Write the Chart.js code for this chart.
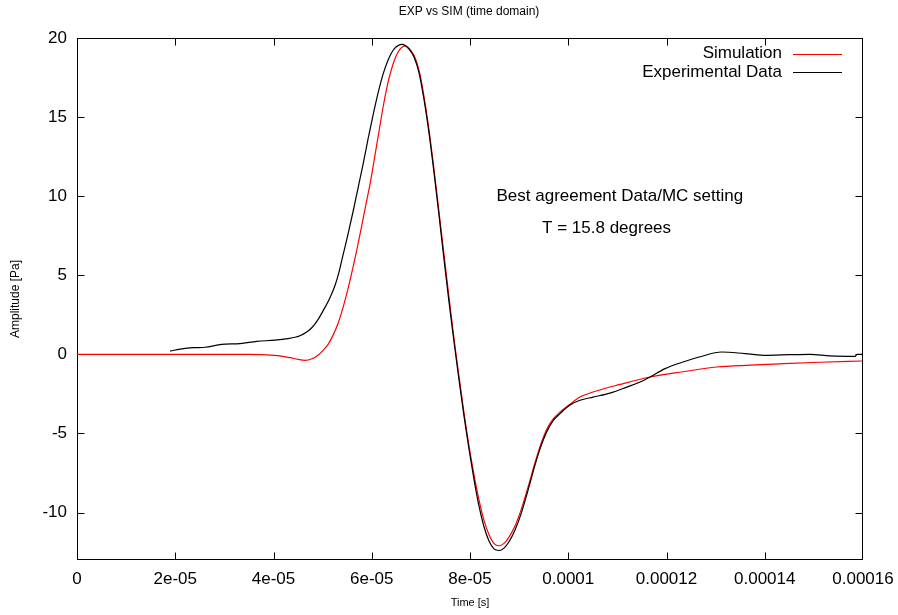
<!DOCTYPE html>
<html>
<head>
<meta charset="utf-8">
<title>EXP vs SIM (time domain)</title>
<script src="https://cdn.jsdelivr.net/npm/chart.js@4/dist/chart.umd.min.js"></script>
<style>
  html, body { margin: 0; padding: 0; background: #fff; }
  #wrap { width: 898px; height: 615px; }
</style>
</head>
<body>
<div id="wrap"><canvas id="c" width="898" height="615"></canvas></div>
<script>
// Time axis (seconds) and amplitude (Pa) of the simulated waveform
const simTime = [
  0, 14.86e-6, 31.14e-6, 35.22e-6, 38.62e-6, 41.32e-6, 43.36e-6, 44.99e-6, 46.41e-6, 47.84e-6,
  49.06e-6, 50.08e-6, 51.09e-6, 52.11e-6, 53.13e-6, 54.15e-6, 55.17e-6, 56.18e-6, 56.94e-6, 57.81e-6,
  58.83e-6, 59.79e-6, 60.66e-6, 61.48e-6, 62.35e-6, 63.10e-6, 64.18e-6, 65.34e-6, 66.77e-6, 67.99e-6,
  69.01e-6, 69.82e-6, 70.64e-6, 71.65e-6, 72.67e-6, 73.69e-6, 74.71e-6, 75.73e-6, 76.74e-6, 77.76e-6,
  78.78e-6, 79.80e-6, 80.81e-6, 81.83e-6, 82.85e-6, 83.87e-6, 84.88e-6, 85.90e-6, 86.92e-6, 87.94e-6,
  89.16e-6, 90.38e-6, 91.81e-6, 93.23e-6, 94.45e-6, 95.61e-6, 96.90e-6, 98.32e-6, 100.36e-6, 102.39e-6,
  105.04e-6, 110.54e-6, 116.65e-6, 123.36e-6, 130.22e-6, 137.08e-6, 143.71e-6, 151.24e-6, 159.79e-6
];
const simAmp = [
  0, 0, 0, 0, -0.03, -0.1, -0.21, -0.32, -0.38, -0.28,
  -0.06, 0.25, 0.62, 1.2, 1.95, 2.95, 4.15, 5.5, 6.58, 7.9,
  9.5, 11.0, 12.6, 14.1, 15.7, 16.9, 18.2, 19.1, 19.5, 19.2,
  18.6, 17.7, 16.3, 14.2, 11.7, 9.0, 6.3, 3.6, 1.0, -1.4,
  -3.7, -5.8, -7.6, -9.2, -10.5, -11.4, -11.95, -12.1, -11.95, -11.55,
  -10.85, -9.85, -8.4, -6.85, -5.65, -4.75, -4.1, -3.65, -3.15, -2.7,
  -2.38, -1.9, -1.43, -1.1, -0.8, -0.68, -0.59, -0.5, -0.42
];

// Time axis (seconds) and amplitude (Pa) of the measured waveform
const expTime = [
  18.93e-6, 21.37e-6, 23.67e-6, 26.06e-6, 29.46e-6, 33.18e-6, 36.58e-6, 40.31e-6, 42.95e-6, 44.58e-6,
  45.39e-6, 46.76e-6, 47.84e-6, 49.06e-6, 50.14e-6, 51.30e-6, 52.52e-6, 53.33e-6, 54.21e-6, 55.17e-6,
  56.18e-6, 57.20e-6, 58.22e-6, 59.24e-6, 60.25e-6, 61.27e-6, 62.29e-6, 63.31e-6, 64.53e-6, 66.22e-6,
  67.58e-6, 68.60e-6, 69.62e-6, 70.64e-6, 71.65e-6, 72.67e-6, 73.69e-6, 74.71e-6, 75.73e-6, 76.74e-6,
  77.76e-6, 78.78e-6, 79.80e-6, 80.81e-6, 81.83e-6, 82.85e-6, 83.87e-6, 84.88e-6, 85.90e-6, 86.92e-6,
  87.94e-6, 89.16e-6, 90.38e-6, 91.81e-6, 93.23e-6, 94.45e-6, 95.61e-6, 96.90e-6, 98.32e-6, 100.36e-6,
  102.39e-6, 105.04e-6, 108.50e-6, 111.90e-6, 114.60e-6, 116.65e-6, 119.70e-6, 123.36e-6, 126.82e-6, 131.24e-6,
  135.98e-6, 140.40e-6, 145.14e-6, 149.21e-6, 153.28e-6, 158.37e-6, 158.78e-6, 159.79e-6
];
const expAmp = [
  0.21, 0.35, 0.42, 0.45, 0.63, 0.68, 0.82, 0.9, 1.0, 1.1,
  1.18, 1.41, 1.7, 2.2, 2.78, 3.45, 4.35, 5.2, 6.35, 7.6,
  9.0, 10.5, 12.0, 13.6, 15.1, 16.5, 17.7, 18.6, 19.3, 19.6,
  19.3, 18.8, 17.8, 16.1, 14.0, 11.5, 8.8, 6.0, 3.3, 0.8,
  -1.6, -3.9, -6.0, -7.9, -9.6, -10.9, -11.8, -12.3, -12.4, -12.25,
  -11.85, -11.1, -10.1, -8.6, -7.0, -5.8, -4.9, -4.2, -3.75, -3.2,
  -2.9, -2.7, -2.45, -2.07, -1.75, -1.43, -0.9, -0.48, -0.15, 0.15,
  0.05, -0.06, -0.02, 0.0, -0.1, -0.13, 0.0, 0.0
];

const seriesNames = ['Simulation', 'Experimental Data'];
const seriesColors = ['#ff0000', '#000000'];

// Axis ticks
const xTickValues = [0, 2e-5, 4e-5, 6e-5, 8e-5, 1e-4, 1.2e-4, 1.4e-4, 1.6e-4];
const xTickLabels = ['0', '2e-05', '4e-05', '6e-05', '8e-05', '0.0001', '0.00012', '0.00014', '0.00016'];
const yTickValues = [-10, -5, 0, 5, 10, 15, 20];
const yTickLabels = ['-10', '-5', '0', '5', '10', '15', '20'];

const chartTitle = 'EXP vs SIM (time domain)';

// Annotation text and its anchor in data coordinates
const noteLines = ['Best agreement Data/MC setting', 'T = 15.8 degrees'];
const noteAnchorsX = [110.5e-6, 107.8e-6];
const noteAnchorsY = [10, 8];

const FONT = '"Liberation Sans", Arial, Helvetica, sans-serif';
const TICK_LEN = 7;

function pairs(xs, ys) { return xs.map((x, i) => ({ x: x, y: ys[i] })); }

// Gnuplot-style frame with inward ticks on all four sides
const framePlugin = {
  id: 'frame',
  beforeDatasetsDraw(chart) {
    const { ctx, chartArea: a, scales } = chart;
    const L = Math.round(a.left) + 0.5, R = Math.round(a.right) - 0.5;
    const T = Math.round(a.top) + 0.5, B = Math.round(a.bottom) - 0.5;
    ctx.save();
    ctx.strokeStyle = '#000';
    ctx.lineWidth = 1;
    ctx.beginPath();
    scales.x.ticks.forEach(t => {
      const px = Math.round(scales.x.getPixelForValue(t.value)) + 0.5;
      if (px <= L + 1 || px >= R - 1) return;
      ctx.moveTo(px, B); ctx.lineTo(px, B - TICK_LEN);
      ctx.moveTo(px, T); ctx.lineTo(px, T + TICK_LEN);
    });
    scales.y.ticks.forEach(t => {
      const py = Math.round(scales.y.getPixelForValue(t.value)) + 0.5;
      if (py <= T + 1 || py >= B - 1) return;
      ctx.moveTo(L, py); ctx.lineTo(L + TICK_LEN, py);
      ctx.moveTo(R, py); ctx.lineTo(R - TICK_LEN, py);
    });
    ctx.stroke();
    ctx.strokeRect(L, T, R - L, B - T);
    ctx.restore();
  }
};

// Title, key in the top-right corner (text, then line sample) and the text label
const textPlugin = {
  id: 'keyAndNote',
  afterDatasetsDraw(chart) {
    const { ctx, chartArea: a, scales } = chart;
    ctx.save();
    ctx.fillStyle = '#000';
    ctx.textBaseline = 'middle';
    ctx.textAlign = 'center';
    ctx.font = '12px ' + FONT;
    ctx.fillText(chartTitle, 469, 12);

    ctx.font = '17px ' + FONT;
    chart.data.datasets.forEach((ds, i) => {
      const y = a.top + 15.5 + i * 18.5;
      ctx.textAlign = 'right';
      ctx.fillText(ds.label, a.right - 81, y);
      ctx.strokeStyle = ds.borderColor;
      ctx.lineWidth = 1;
      ctx.beginPath();
      ctx.moveTo(a.right - 70, Math.round(y) + 0.5);
      ctx.lineTo(a.right - 21, Math.round(y) + 0.5);
      ctx.stroke();
    });
    ctx.textAlign = 'center';
    noteLines.forEach((txt, i) => {
      ctx.fillText(txt, scales.x.getPixelForValue(noteAnchorsX[i]), scales.y.getPixelForValue(noteAnchorsY[i]));
    });
    ctx.restore();
  }
};

new Chart(document.getElementById('c'), {
  type: 'line',
  data: {
    datasets: [
      {
        label: seriesNames[0],
        data: pairs(simTime, simAmp),
        borderColor: seriesColors[0],
        borderWidth: 1.2,
        pointRadius: 0,
        cubicInterpolationMode: 'monotone',
        fill: false,
        order: 1
      },
      {
        label: seriesNames[1],
        data: pairs(expTime, expAmp),
        borderColor: seriesColors[1],
        borderWidth: 1.2,
        pointRadius: 0,
        cubicInterpolationMode: 'monotone',
        fill: false,
        order: 0
      }
    ]
  },
  options: {
    responsive: false,
    animation: false,
    devicePixelRatio: 1,
    layout: { padding: { left: 0, right: 35, top: 38, bottom: 0 } },
    plugins: {
      legend: { display: false },
      tooltip: { enabled: false },
      title: { display: false }
    },
    scales: {
      x: {
        type: 'linear',
        min: 0,
        max: 1.6e-4,
        grid: { display: false, drawTicks: false },
        border: { display: false },
        afterBuildTicks(scale) { scale.ticks = xTickValues.map(v => ({ value: v })); },
        afterFit(scale) {
          scale.height = 55;
          scale.paddingLeft = 0;
          scale.paddingRight = 0;
        },
        ticks: {
          color: '#000',
          font: { family: FONT, size: 17 },
          padding: 9,
          maxRotation: 0,
          autoSkip: false,
          callback(value, index) { return xTickLabels[index]; }
        },
        title: {
          display: true,
          text: 'Time [s]',
          color: '#000',
          font: { family: FONT, size: 11 },
          padding: { top: 0, bottom: 5.4 }
        }
      },
      y: {
        type: 'linear',
        min: -13,
        max: 20,
        grid: { display: false, drawTicks: false },
        border: { display: false },
        afterBuildTicks(scale) { scale.ticks = yTickValues.map(v => ({ value: v })); },
        afterFit(scale) {
          scale.width = 77;
          scale.paddingTop = 0;
          scale.paddingBottom = 0;
        },
        ticks: {
          color: '#000',
          font: { family: FONT, size: 17 },
          padding: 10,
          autoSkip: false,
          callback(value, index) { return yTickLabels[index]; }
        },
        title: {
          display: true,
          text: 'Amplitude [Pa]',
          color: '#000',
          font: { family: FONT, size: 12 },
          padding: { top: 8, bottom: 0 }
        }
      }
    }
  },
  plugins: [framePlugin, textPlugin]
});
</script>
</body>
</html>
